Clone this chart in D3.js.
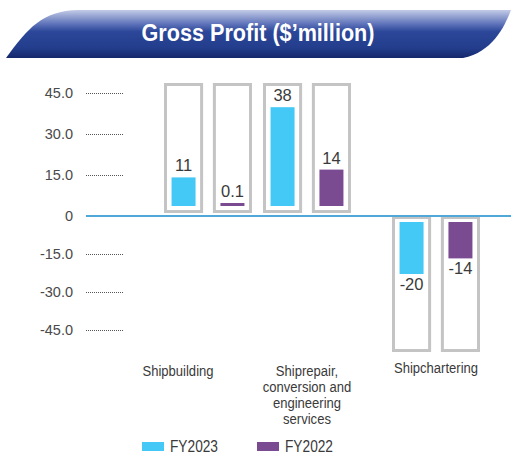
<!DOCTYPE html>
<html>
<head>
<meta charset="utf-8">
<script src="https://cdn.jsdelivr.net/npm/d3@7/dist/d3.min.js"></script>
<style>
  body { margin: 0; background: #fff; }
  svg { display: block; font-family: "Liberation Sans", Arial, sans-serif; }
</style>
</head>
<body>
<svg width="511" height="456"></svg>
<script>
(function () {
    'use strict';

    // data
    var categories = ['Shipbuilding', 'Shiprepair, conversion and engineering services', 'Shipchartering'];
    var categoryLines = [['Shipbuilding'], ['Shiprepair,', 'conversion and', 'engineering', 'services'], ['Shipchartering']];
    var seriesNames = ['FY2023', 'FY2022'];
    var fy2023 = [11, 38, -20];
    var fy2022 = [0.1, 14, -14];
    var fy2023Labels = ['11', '38', '-20'];
    var fy2022Labels = ['0.1', '14', '-14'];
    var tickValues = [45, 30, 15, 0, -15, -30, -45];
    var tickLabels = ['45.0', '30.0', '15.0', '0', '-15.0', '-30.0', '-45.0'];

    var colors = ['#44c8f5', '#7a4b91'];

    var svg = d3.select('svg');
    var width = +svg.attr('width');

    // title banner
    var defs = svg.append('defs');
    var grad = defs.append('linearGradient')
        .attr('id', 'banner').attr('x1', 0).attr('y1', 0).attr('x2', 0).attr('y2', 1);
    grad.append('stop').attr('offset', '0%').attr('stop-color', '#c3cbe6');
    grad.append('stop').attr('offset', '30%').attr('stop-color', '#5b70b8');
    grad.append('stop').attr('offset', '45%').attr('stop-color', '#2c4799');
    grad.append('stop').attr('offset', '80%').attr('stop-color', '#233d8c');
    grad.append('stop').attr('offset', '100%').attr('stop-color', '#14276a');

    svg.append('path')
        .attr('d', 'M6,58 C28,28 42,11 78,10 L511,10 C504,28 492,52 463,58 Z')
        .attr('fill', 'url(#banner)');

    svg.append('text')
        .attr('x', 258).attr('y', 41)
        .attr('text-anchor', 'middle')
        .attr('fill', '#fff')
        .attr('font-weight', 'bold')
        .attr('font-size', 23)
        .attr('textLength', 233)
        .attr('lengthAdjust', 'spacingAndGlyphs')
        .text("Gross Profit ($\u2019million)");

    // scales
    var y = d3.scaleLinear().domain([-45, 0, 45]).range([330, 216, 93]);
    var barH = d3.scaleLinear().domain([0, 40]).range([0, 104]);
    var gx = d3.scaleOrdinal().domain(categories).range([164, 263, 392]);
    var sx = d3.scaleBand().domain(seriesNames).range([0, 88]).paddingInner(0.2);
    var labelShift = [-30, 0, 0];

    // y axis ticks
    var ticks = svg.append('g');
    tickValues.forEach(function (v, i) {
        ticks.append('text')
            .attr('x', 73).attr('y', y(v) + 5)
            .attr('text-anchor', 'end')
            .attr('font-size', 14.5)
            .attr('fill', '#4a4a4a')
            .text(tickLabels[i]);
        if (v !== 0) {
            ticks.append('line')
                .attr('x1', 86).attr('x2', 124)
                .attr('y1', y(v) + 0.5).attr('y2', y(v) + 0.5)
                .attr('stroke', '#555')
                .attr('stroke-dasharray', '1,1');
        }
    });

    // bars
    var series = [
        { name: 'FY2023', values: fy2023, labels: fy2023Labels },
        { name: 'FY2022', values: fy2022, labels: fy2022Labels }
    ];
    var bw = 24;
    var posBase = y(0) - 10;
    var negBase = y(0) + 6;

    categories.forEach(function (c, ci) {
        series.forEach(function (s, si) {
            var v = s.values[ci];
            var x0 = gx(c) + sx(s.name);
            var boxW = sx.bandwidth();
            var top = v >= 0 ? y(45) - 10 : y(0);
            var bottom = v >= 0 ? y(0) - 3 : y(-45) + 22;
            svg.append('rect')
                .attr('x', x0 + 1.5).attr('y', top + 1.5)
                .attr('width', boxW - 3).attr('height', bottom - top - 3)
                .attr('fill', '#fff')
                .attr('stroke', '#c4c4c4')
                .attr('stroke-width', 3);

            var h = Math.max(3, barH(Math.abs(v)));
            var bx = x0 + (boxW - bw) / 2;
            var by = v >= 0 ? posBase - h : negBase;
            svg.append('rect')
                .attr('x', bx).attr('y', by)
                .attr('width', bw).attr('height', h)
                .attr('fill', colors[si]);

            svg.append('text')
                .attr('x', bx + bw / 2)
                .attr('y', v >= 0 ? by - 6 : by + h + 16)
                .attr('text-anchor', 'middle')
                .attr('font-size', 16.5)
                .attr('fill', '#3a3a3a')
                .text(s.labels[ci]);
        });

        var lab = svg.append('g')
            .attr('transform', 'translate(' + (gx(c) + 44 + labelShift[ci]) + ',0) scale(0.87,1)')
            .append('text')
            .attr('text-anchor', 'middle')
            .attr('font-size', 15)
            .attr('fill', '#3a3a3a');
        categoryLines[ci].forEach(function (line, li) {
            lab.append('tspan')
                .attr('x', 0)
                .attr('y', (ci === 2 ? 373 : 376) + li * 16)
                .text(line);
        });
    });

    // zero line
    svg.append('line')
        .attr('x1', 86).attr('x2', width)
        .attr('y1', y(0)).attr('y2', y(0))
        .attr('stroke', '#4fa8d8')
        .attr('stroke-width', 2);

    // legend
    var legendX = [142, 257];
    series.forEach(function (s, si) {
        svg.append('rect')
            .attr('x', legendX[si]).attr('y', 442)
            .attr('width', 22).attr('height', 9)
            .attr('fill', colors[si]);
        svg.append('text')
            .attr('x', legendX[si] + 28).attr('y', 452)
            .attr('font-size', 16)
            .attr('fill', '#3a3a3a')
            .attr('textLength', 48)
            .attr('lengthAdjust', 'spacingAndGlyphs')
            .text(s.name);
    });
}());
</script>
</body>
</html>
